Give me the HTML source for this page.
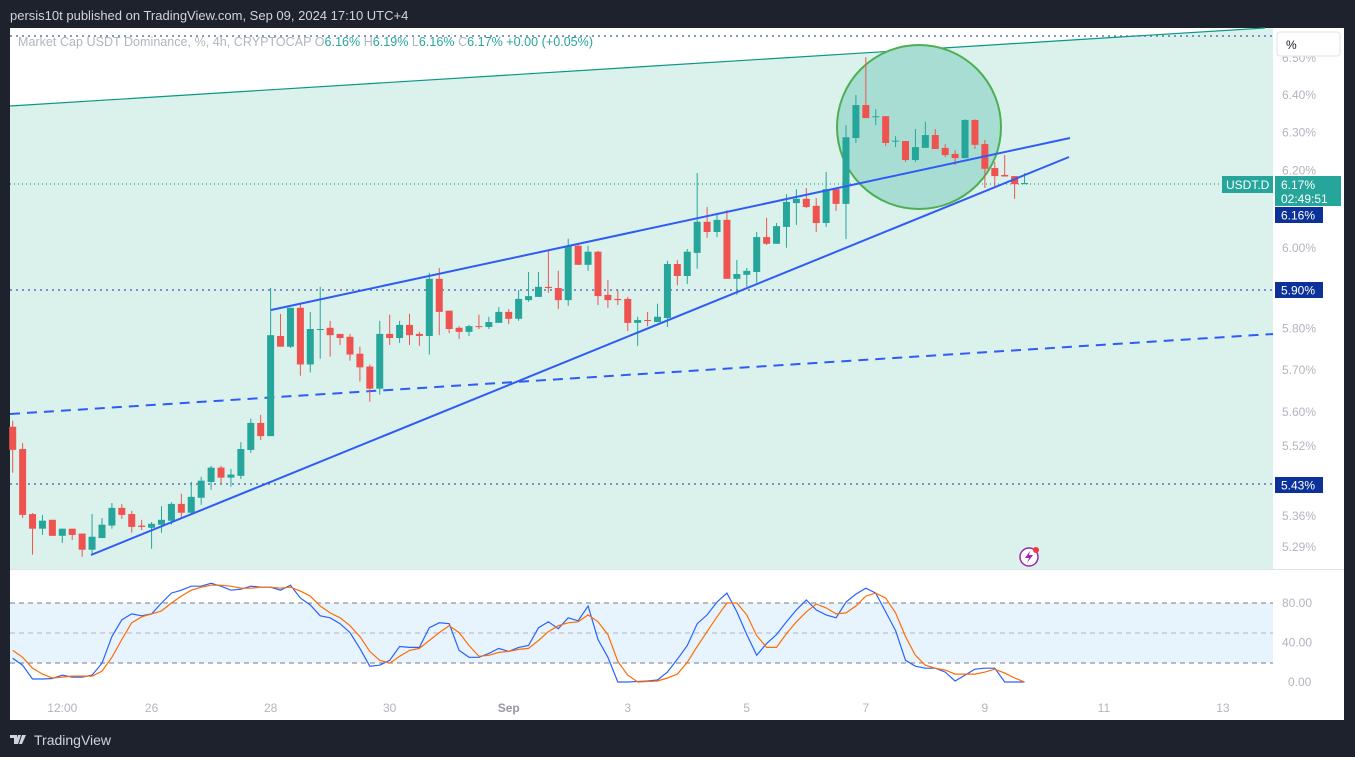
<!DOCTYPE html>
<html><head><meta charset="utf-8">
<style>
html,body{margin:0;padding:0;background:#1e222d;width:1355px;height:757px;overflow:hidden;}
svg{display:block;font-family:"Liberation Sans",sans-serif;}
</style></head>
<body>
<svg id="chart" width="1355" height="757" viewBox="0 0 1355 757" xmlns="http://www.w3.org/2000/svg">
  <rect x="0" y="0" width="1355" height="757" fill="#1e222d"/>
  <text x="10" y="20" font-size="13" fill="#d1d4dc">persis10t published on TradingView.com, Sep 09, 2024 17:10 UTC+4</text>
  <rect x="10" y="28" width="1334" height="692" fill="#ffffff"/>
  <polygon points="10,106 1265,28 1273,28 1273,569 10,569" fill="#dbf1ec"/>
  <line x1="10" y1="106" x2="1265" y2="28" stroke="#089981" stroke-width="1.2"/>
  <line x1="10" y1="36" x2="1273" y2="36" stroke="#5b74b8" stroke-width="1.5" stroke-dasharray="2,4"/>
  <line x1="10" y1="290" x2="1273" y2="290" stroke="#5b74b8" stroke-width="1.5" stroke-dasharray="2,4"/>
  <line x1="10" y1="484" x2="1273" y2="484" stroke="#5b74b8" stroke-width="1.5" stroke-dasharray="2,4"/>
  <line x1="10" y1="184" x2="1273" y2="184" stroke="#26a69a" stroke-width="1.2" stroke-dasharray="1,3"/>
  <line x1="10" y1="414" x2="1273" y2="334" stroke="#2f5cf5" stroke-width="2" stroke-dasharray="10,7"/>
  <circle cx="919" cy="127" r="82" fill="#a8ddd3" stroke="#4caf50" stroke-width="2"/>
  <g id="candles"></g>
  <line x1="271" y1="310" x2="1070" y2="138" stroke="#2f5cf5" stroke-width="2"/>
  <line x1="91" y1="555" x2="1069" y2="157" stroke="#2f5cf5" stroke-width="2"/>
  <text x="18" y="46" font-size="12.5" textLength="575" lengthAdjust="spacing" fill="#b2b5be">Market Cap USDT Dominance, %, 4h, CRYPTOCAP  O<tspan fill="#26a69a">6.16%</tspan>  H<tspan fill="#26a69a">6.19%</tspan>  L<tspan fill="#26a69a">6.16%</tspan>  C<tspan fill="#26a69a">6.17%</tspan>  <tspan fill="#26a69a">+0.00 (+0.05%)</tspan></text>
  <g><circle cx="1029" cy="557" r="9" fill="#ffffff" stroke="#9c27b0" stroke-width="1.5"/><path d="M1030 551 L1025 558 L1029 558 L1027 563 L1033 555 L1029 555 Z" fill="#9c27b0"/><circle cx="1036" cy="550" r="3" fill="#f23645"/></g>
  <line x1="10" y1="569.5" x2="1344" y2="569.5" stroke="#e0e3eb"/>
  <rect x="10" y="603" width="1263" height="60" fill="#e8f4fd"/>
  <line x1="10" y1="603" x2="1273" y2="603" stroke="#787b86" stroke-dasharray="5,4"/>
  <line x1="10" y1="633" x2="1273" y2="633" stroke="#b2b5be" stroke-dasharray="5,4"/>
  <line x1="10" y1="663" x2="1273" y2="663" stroke="#787b86" stroke-dasharray="5,4"/>
  <path id="stochK" fill="none" stroke="#2962ff" stroke-width="1.2"/>
  <path id="stochD" fill="none" stroke="#ff6d00" stroke-width="1.2"/>
  <g id="yaxis" font-size="12" fill="#b2b5be"></g>
  <g id="saxis" font-size="12" fill="#b2b5be"></g>
  <g id="xaxis" font-size="12" fill="#b2b5be" text-anchor="middle"></g>
  <rect x="1277" y="32" width="63" height="24" rx="3" fill="#ffffff" stroke="#e0e3eb"/>
  <text x="1286" y="49" font-size="12" fill="#131722">%</text>
  <rect x="1222" y="176" width="51" height="17" fill="#26a69a"/>
  <text x="1226" y="189" font-size="12" fill="#ffffff">USDT.D</text>
  <rect x="1275" y="176" width="66" height="30" fill="#26a69a"/>
  <text x="1281" y="189" font-size="12" fill="#ffffff">6.17%</text>
  <text x="1281" y="203" font-size="12" fill="#ffffff">02:49:51</text>
  <rect x="1275" y="207" width="48" height="16" fill="#0c3299"/>
  <text x="1281" y="219.5" font-size="12" fill="#ffffff">6.16%</text>
  <rect x="1275" y="282" width="48" height="16" fill="#0c3299"/>
  <text x="1281" y="294.5" font-size="12" fill="#ffffff">5.90%</text>
  <rect x="1275" y="477" width="48" height="16" fill="#0c3299"/>
  <text x="1281" y="489.5" font-size="12" fill="#ffffff">5.43%</text>
  <g><path d="M10 735 h7 v9 h-3 v-6 h-4 z M18 735 h3 l-3 9 h-3 z M22 735 h4 l-4 9 h-3 z" fill="#d1d4dc"/><text x="34" y="745" font-size="14" fill="#d1d4dc">TradingView</text></g>
</svg>
<script>
const opens=[5.565,5.513,5.364,5.331,5.351,5.315,5.331,5.320,5.284,5.310,5.338,5.378,5.364,5.338,5.333,5.340,5.349,5.387,5.367,5.401,5.437,5.470,5.447,5.451,5.511,5.574,5.543,5.782,5.756,5.851,5.713,5.797,5.802,5.787,5.780,5.739,5.708,5.655,5.787,5.777,5.809,5.787,5.782,5.923,5.844,5.802,5.792,5.806,5.804,5.814,5.841,5.824,5.870,5.878,5.903,5.900,5.870,6.006,5.958,5.991,5.883,5.873,5.873,5.814,5.821,5.816,5.826,5.960,5.930,5.988,6.067,6.041,6.072,5.923,5.933,5.940,6.028,6.011,6.054,6.115,6.126,6.108,6.064,6.151,6.113,6.285,6.373,6.341,6.343,6.277,6.277,6.227,6.259,6.293,6.259,6.243,6.232,6.333,6.269,6.206,6.188,6.185,6.164];
const highs=[5.579,5.527,5.366,5.362,5.351,5.331,5.331,5.320,5.364,5.355,5.389,5.387,5.371,5.351,5.346,5.382,5.391,5.410,5.437,5.449,5.474,5.474,5.467,5.529,5.584,5.593,5.900,5.836,5.851,5.863,5.841,5.903,5.819,5.787,5.787,5.756,5.713,5.819,5.834,5.819,5.836,5.792,5.938,5.950,5.844,5.806,5.809,5.834,5.829,5.853,5.848,5.895,5.940,5.940,5.993,5.943,6.024,6.013,6.006,5.993,5.920,5.895,5.878,5.829,5.841,5.861,5.968,5.970,5.998,6.193,6.105,6.087,6.097,5.970,5.950,6.041,6.077,6.064,6.138,6.151,6.154,6.128,6.196,6.154,6.319,6.400,6.503,6.362,6.343,6.290,6.277,6.309,6.328,6.309,6.269,6.253,6.335,6.335,6.280,6.222,6.240,6.185,6.193];
const lows=[5.458,5.355,5.273,5.317,5.315,5.299,5.306,5.268,5.271,5.310,5.331,5.353,5.322,5.328,5.286,5.322,5.340,5.353,5.364,5.385,5.419,5.433,5.426,5.444,5.504,5.534,5.543,5.756,5.753,5.686,5.694,5.727,5.732,5.760,5.722,5.672,5.624,5.641,5.760,5.765,5.760,5.758,5.737,5.784,5.789,5.775,5.782,5.799,5.799,5.814,5.811,5.819,5.866,5.878,5.888,5.848,5.856,5.958,5.943,5.858,5.851,5.858,5.794,5.758,5.806,5.816,5.804,5.907,5.910,5.948,6.026,6.028,5.923,5.883,5.903,5.913,6.008,6.011,6.001,6.059,6.102,6.041,6.054,6.095,6.023,6.272,6.338,6.319,6.264,6.261,6.222,6.222,6.259,6.256,6.235,6.214,6.232,6.256,6.154,6.157,6.185,6.126,6.164];
const closes=[5.511,5.362,5.331,5.349,5.315,5.331,5.317,5.284,5.313,5.340,5.378,5.362,5.335,5.335,5.342,5.351,5.387,5.367,5.403,5.440,5.470,5.447,5.454,5.513,5.574,5.543,5.784,5.756,5.851,5.713,5.799,5.799,5.784,5.777,5.737,5.706,5.655,5.787,5.777,5.809,5.784,5.782,5.923,5.841,5.799,5.792,5.806,5.805,5.816,5.841,5.824,5.873,5.880,5.903,5.900,5.870,6.006,5.958,5.991,5.880,5.870,5.870,5.814,5.821,5.819,5.829,5.960,5.930,5.991,6.067,6.041,6.072,5.923,5.935,5.943,6.028,6.011,6.056,6.118,6.126,6.105,6.064,6.151,6.113,6.287,6.373,6.338,6.343,6.272,6.278,6.227,6.261,6.293,6.256,6.240,6.232,6.333,6.267,6.204,6.185,6.184,6.164,6.167];
const stochK=[24,17,3,3,3.5,7,5,5,7,19,46,63,69,67,69,80,90,93,97,97,100,97,93,94,97,96,96,93,98,85,78,67,65,59,50,34,16,17,22,36,35,35,55,60,59,32,25,25,29,34,31,35,37,55,61,54,65,62,77,43,25,0,0,0.5,1,2,10,23,37,59,68,81,90,71,48,27,39,48,61,73,83,73,68,65,81,89,95,90,71,52,22,16,14,14,10,1,7,13,14,14,0,0,0];
const stochD=[32,25,14,8,4,5,6,6,6,11,25,43,60,66,69,72,80,87,93,96,98,98,97,95,95,96,96,95,96,92,87,77,70,65,57,46,31,22,19,26,32,34,42,50,57,50,37,26,27,30,31,33,34,42,51,57,60,61,68,61,48,21,7,0,0.5,1,4,8,20,36,51,66,80,80,68,47,35,35,49,61,71,79,75,69,70,77,87,90,85,70,46,27,17,14,12,8,8,8,10,13,9,4,0];
const priceTicks=[6.50,6.40,6.30,6.20,6.00,5.80,5.70,5.60,5.52,5.36,5.29];
const stochTicks=[80,40,0];
const timeLabels=["12:00","26","28","30","Sep","3","5","7","9","11","13"];
const timeIdx=[5,14,26,38,50,62,74,86,98,110,122];

const NS="http://www.w3.org/2000/svg";
function xOf(i){return 12.7+9.92*i;}
function yP(v){return 95+2373*Math.log(6.4/v);}
function yS(v){return 682-0.9875*v;}
function mk(tag,attrs,parent){const e=document.createElementNS(NS,tag);for(const k in attrs)e.setAttribute(k,attrs[k]);parent.appendChild(e);return e;}

const cg=document.getElementById('candles');
for(let i=0;i<opens.length;i++){
  const up=closes[i]>=opens[i];
  const col=up?'#26a69a':'#ef5350';
  const x=xOf(i);
  const w=mk('line',{x1:x,x2:x,y1:yP(highs[i]),y2:yP(lows[i]),stroke:col,'stroke-width':1},cg);
  
  
  const top=yP(Math.max(opens[i],closes[i])),bot=yP(Math.min(opens[i],closes[i]));
  const b=mk('rect',{x:x-3.5,y:top,width:7,height:Math.max(1,bot-top),fill:col},cg);
  
  
}
function pathOf(arr){return arr.map((v,i)=>(i?'L':'M')+xOf(i).toFixed(1)+' '+yS(v).toFixed(1)).join(' ');}
document.getElementById('stochK').setAttribute('d',pathOf(stochK));
document.getElementById('stochD').setAttribute('d',pathOf(stochD));

const ya=document.getElementById('yaxis');
priceTicks.forEach(v=>{
  const t=mk('text',{x:1282,y:yP(v)+4},ya);
  t.textContent=v.toFixed(2)+'%';
  
  
});
const sa=document.getElementById('saxis');
stochTicks.forEach(v=>{
  const t=mk('text',{x:v===0?1288:1282,y:yS(v)+4},sa);
  t.textContent=v.toFixed(2);
  
  
});
const xa=document.getElementById('xaxis');
timeLabels.forEach((s,k)=>{
  const t=mk('text',{x:xOf(timeIdx[k]),y:712},xa);
  t.textContent=s;
  if(s==='Sep'){t.setAttribute('font-weight','bold');t.setAttribute('fill','#9598a1');}
  
  
});
</script>
</body></html>
